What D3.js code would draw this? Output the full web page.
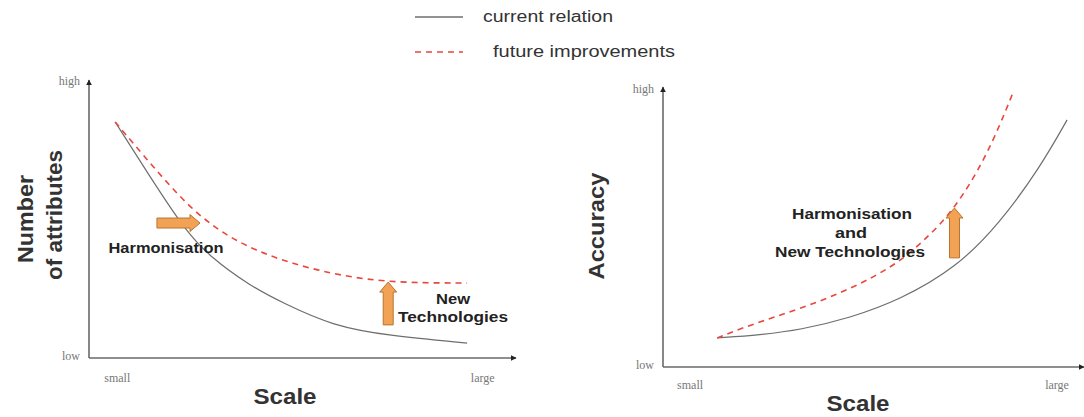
<!DOCTYPE html>
<html>
<head>
<meta charset="utf-8">
<script src="https://cdn.jsdelivr.net/npm/d3@7"></script>
<style>
  html, body { margin: 0; padding: 0; background: #fff; }
  svg { display: block; }
</style>
</head>
<body>
<svg id="chart" width="1084" height="417"></svg>
<script>
// ---------- data (abstract units 0..100 on each axis) ----------
const scaleTicks = ["small", "large"];
const levelTicks = ["low", "high"];
const seriesNames = ["current relation", "future improvements"];

// Left panel: Number of attributes vs Scale
const attrCurrentX = [6.2, 14.5, 22.7, 28.7, 38.2, 46, 57.8, 71.3, 89.6];
const attrCurrentY = [85.5, 65.6, 46.4, 36.6, 26.1, 19.9, 11.6, 8.0, 5.4];
const attrFutureX  = [6.2, 14.5, 26.3, 39.3, 54, 69.7, 89.6];
const attrFutureY  = [85.5, 70.5, 50, 38.4, 31.5, 27.2, 27.2];

// Right panel: Accuracy vs Scale
const accCurrentX = [13, 23.3, 32.9, 44.8, 56.8, 70.5, 80.8, 90.4, 96.9];
const accCurrentY = [10.5, 11.6, 13.4, 17.7, 24.2, 36, 52, 72, 89.2];
const accFutureX  = [13, 20.9, 32.9, 44.8, 56.1, 62.8, 69.5, 77.7, 83.9];
const accFutureY  = [10.5, 15.2, 21, 28, 37, 46, 56, 76, 98.9];

// Annotation arrows [x0, y0, x1, y1] in data units
const attrHarmArrow = [16.1, 48.9, 26.3, 48.9];
const attrTechArrow = [70.9, 12, 70.9, 27.5];
const accArrow      = [69.9, 39.4, 69.9, 57.4];

// ---------- drawing ----------
const svg = d3.select("#chart");
const AXIS = "#6a6a6a", SOLID = "#6e6e6e", DASH = "#e8473d";
const ORANGE = "#f2a254", ORANGE_EDGE = "#b8742f", TXT = "#222";
const SANS = "'Liberation Sans', Arial, sans-serif";
const SERIF = "'Liberation Serif', 'Times New Roman', serif";

const defs = svg.append("defs");
defs.append("marker").attr("id", "ah").attr("viewBox", "0 0 10 10")
  .attr("refX", 9).attr("refY", 5).attr("markerWidth", 6).attr("markerHeight", 6)
  .attr("markerUnits", "userSpaceOnUse").attr("orient", "auto")
  .append("path").attr("d", "M0,0 L10,5 L0,10 z").attr("fill", "#222");

function zip(xs, ys) { return xs.map((x, i) => [x, ys[i]]); }

function panel(cfg) {
  const x = d3.scaleLinear().domain([0, 100]).range(cfg.xr);
  const y = d3.scaleLinear().domain([0, 100]).range(cfg.yr);
  const g = svg.append("g");

  // axes
  g.append("line").attr("x1", x(0)).attr("x2", cfg.xEnd)
    .attr("y1", y(0)).attr("y2", y(0))
    .attr("stroke", AXIS).attr("stroke-width", 1.6).attr("marker-end", "url(#ah)");
  g.append("line").attr("x1", x(0)).attr("x2", x(0))
    .attr("y1", y(0)).attr("y2", cfg.yEnd)
    .attr("stroke", AXIS).attr("stroke-width", 1.6).attr("marker-end", "url(#ah)");

  // tick labels
  g.selectAll(".xt").data(scaleTicks).join("text")
    .attr("x", (d, i) => x(i === 0 ? cfg.smallAt : cfg.largeAt))
    .attr("y", cfg.xTickY).attr("text-anchor", "middle")
    .attr("font-family", SERIF).attr("font-size", 12).attr("fill", "#777")
    .text(d => d);
  g.selectAll(".yt").data(levelTicks).join("text")
    .attr("x", x(0) - 9)
    .attr("y", (d, i) => i === 0 ? y(0) + 2 : cfg.highY)
    .attr("text-anchor", "end")
    .attr("font-family", SERIF).attr("font-size", 12).attr("fill", "#777")
    .text(d => d);

  // x title
  g.append("text").attr("x", cfg.scaleTitle[0]).attr("y", cfg.scaleTitle[1])
    .attr("text-anchor", "middle").attr("font-family", SANS)
    .attr("font-weight", "bold").attr("font-size", 22).attr("fill", "#333")
    .attr("textLength", 63).attr("lengthAdjust", "spacingAndGlyphs")
    .text("Scale");

  // y title lines
  cfg.yTitle.forEach(t => {
    g.append("text")
      .attr("transform", `translate(${t.x},${t.y}) rotate(-90)`)
      .attr("text-anchor", "middle").attr("font-family", SANS)
      .attr("font-weight", "bold").attr("font-size", 22).attr("fill", "#333")
      .attr("textLength", t.len).attr("lengthAdjust", "spacingAndGlyphs")
      .text(t.text);
  });

  const line = d3.line().x(d => x(d[0])).y(d => y(d[1])).curve(d3.curveBasis);
  g.append("path").attr("d", line(cfg.current))
    .attr("fill", "none").attr("stroke", SOLID).attr("stroke-width", 1.2);
  g.append("path").attr("d", line(cfg.future))
    .attr("fill", "none").attr("stroke", DASH).attr("stroke-width", 1.6)
    .attr("stroke-dasharray", "6,5");

  // arrows
  cfg.arrows.forEach(a => {
    const x0 = x(a[0]), y0 = y(a[1]), x1 = x(a[2]), y1 = y(a[3]);
    const len = Math.hypot(x1 - x0, y1 - y0);
    const ang = Math.atan2(y1 - y0, x1 - x0) * 180 / Math.PI;
    const bw = 5, hw = 8.5, hl = 10;
    const p = `M0,${-bw} L${len - hl},${-bw} L${len - hl},${-hw} L${len},0 L${len - hl},${hw} L${len - hl},${bw} L0,${bw} Z`;
    g.append("path").attr("d", p)
      .attr("transform", `translate(${x0},${y0}) rotate(${ang})`)
      .attr("fill", ORANGE).attr("stroke", ORANGE_EDGE).attr("stroke-width", 1);
  });

  // annotation texts
  cfg.notes.forEach(n => {
    g.append("text").attr("x", n.x).attr("y", n.y)
      .attr("text-anchor", "middle").attr("font-family", SANS)
      .attr("font-weight", "bold").attr("font-size", 15).attr("fill", TXT)
      .attr("textLength", n.len).attr("lengthAdjust", "spacingAndGlyphs")
      .text(n.text);
  });
}

panel({
  xr: [89, 511], yr: [358, 82], xEnd: 516, yEnd: 80,
  smallAt: 6.7, largeAt: 93.3, xTickY: 382, highY: 85,
  scaleTitle: [285, 404],
  yTitle: [{ text: "Number", x: 33, y: 219, len: 88 },
           { text: "of attributes", x: 62, y: 215, len: 130 }],
  current: zip(attrCurrentX, attrCurrentY),
  future: zip(attrFutureX, attrFutureY),
  arrows: [attrHarmArrow, attrTechArrow],
  notes: [{ text: "Harmonisation", x: 166, y: 253, len: 115 },
          { text: "New", x: 453, y: 304, len: 34 },
          { text: "Technologies", x: 453, y: 322, len: 110 }]
});

panel({
  xr: [663, 1080], yr: [367, 90], xEnd: 1084, yEnd: 87,
  smallAt: 6.5, largeAt: 94.5, xTickY: 389, highY: 93,
  scaleTitle: [858, 411],
  yTitle: [{ text: "Accuracy", x: 604, y: 226, len: 107 }],
  current: zip(accCurrentX, accCurrentY),
  future: zip(accFutureX, accFutureY),
  arrows: [accArrow],
  notes: [{ text: "Harmonisation", x: 852, y: 219, len: 120 },
          { text: "and", x: 851, y: 238, len: 32 },
          { text: "New Technologies", x: 850, y: 257, len: 150 }]
});

// legend
const legend = svg.append("g");
const legendY = [17, 52];
seriesNames.forEach((name, i) => {
  legend.append("line").attr("x1", 415).attr("x2", 463)
    .attr("y1", legendY[i]).attr("y2", legendY[i])
    .attr("stroke", i === 0 ? SOLID : DASH).attr("stroke-width", i === 0 ? 1.3 : 1.6)
    .attr("stroke-dasharray", i === 0 ? null : "6,5");
  legend.append("text").attr("x", i === 0 ? 483 : 493).attr("y", legendY[i] + 5)
    .attr("font-family", SANS).attr("font-size", 16).attr("fill", "#333")
    .attr("textLength", i === 0 ? 130 : 182).attr("lengthAdjust", "spacingAndGlyphs")
    .text(name);
});
</script>
</body>
</html>
